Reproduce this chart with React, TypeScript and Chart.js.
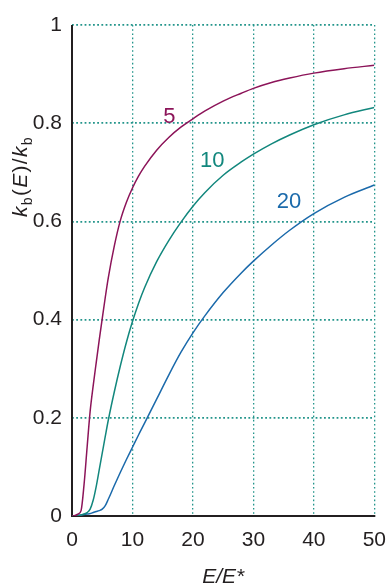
import React, { useEffect, useRef } from "react";
import { Chart, registerables } from "chart.js";

Chart.register(...registerables);

// E/E* sample positions
const xs = [0, 0.5, 1, 1.5, 2, 2.5, 3, 3.5, 4, 4.5, 5, 5.5, 6, 7, 8, 9, 10, 11, 12, 14, 16, 18, 20, 22, 25, 28, 30, 33, 36, 40, 45, 50];

// k_b(E)/k_b for s = 5, 10, 20
const s5 = [0, 0.001, 0.004, 0.011, 0.065, 0.14, 0.213, 0.265, 0.312, 0.358, 0.402, 0.445, 0.485, 0.55, 0.602, 0.639, 0.668, 0.692, 0.712, 0.745, 0.771, 0.792, 0.809, 0.825, 0.845, 0.861, 0.871, 0.883, 0.892, 0.902, 0.911, 0.918];
const s10 = [0, 0.0005, 0.001, 0.002, 0.004, 0.007, 0.014, 0.032, 0.06, 0.094, 0.128, 0.162, 0.195, 0.253, 0.306, 0.354, 0.396, 0.433, 0.465, 0.518, 0.561, 0.598, 0.631, 0.659, 0.694, 0.721, 0.737, 0.758, 0.776, 0.797, 0.817, 0.832];
const s20 = [0, 0, 0.001, 0.002, 0.003, 0.004, 0.005, 0.007, 0.009, 0.011, 0.014, 0.021, 0.034, 0.062, 0.089, 0.115, 0.14, 0.165, 0.189, 0.238, 0.287, 0.333, 0.373, 0.408, 0.455, 0.495, 0.519, 0.552, 0.582, 0.616, 0.649, 0.674];

const seriesNames = ["5", "10", "20"];
const seriesColors = ["#8c1459", "#12877d", "#1b6aab"];
// curve label anchors (data coords)
const labelX = [16.1, 23.2, 35.9];
const labelY = [0.815, 0.725, 0.641];

const xTicks = [0, 10, 20, 30, 40, 50];
const yTicks = [0, 0.2, 0.4, 0.6, 0.8, 1];
const yTickLabels = ["0", "0.2", "0.4", "0.6", "0.8", "1"];

const TEXT = "#231f20";
const GRID = "#23958b";
const FONT = '"Liberation Sans", Arial, sans-serif';

const axesLines = {
  id: "axesLines",
  beforeDatasetsDraw(chart: any) {
    const { ctx, chartArea } = chart;
    ctx.save();
    ctx.setLineDash([]);
    ctx.strokeStyle = TEXT;
    ctx.lineWidth = 2;
    ctx.beginPath();
    ctx.moveTo(chartArea.left, chartArea.top);
    ctx.lineTo(chartArea.left, chartArea.bottom);
    ctx.lineTo(chartArea.right + 1, chartArea.bottom);
    ctx.stroke();
    ctx.restore();
  },
};

const overlay = {
  id: "overlay",
  afterDraw(chart: any) {
    const ctx = chart.ctx;
    const xs_ = chart.scales.x;
    const ys_ = chart.scales.y;
    ctx.save();
    ctx.textAlign = "center";
    ctx.textBaseline = "middle";
    ctx.font = `22px ${FONT}`;
    seriesNames.forEach((n, i) => {
      ctx.fillStyle = seriesColors[i];
      ctx.fillText(n, xs_.getPixelForValue(labelX[i]), ys_.getPixelForValue(labelY[i]) + 1);
    });
    ctx.restore();

    // y axis title k_b(E)/k_b
    ctx.save();
    ctx.translate(27, 217);
    ctx.rotate(-Math.PI / 2);
    ctx.fillStyle = TEXT;
    ctx.textAlign = "left";
    ctx.textBaseline = "alphabetic";
    let pos = 0;
    const gap = 1.3;
    const seg = (t: string, font: string, dy: number) => {
      ctx.font = font;
      ctx.fillText(t, pos, dy);
      pos += ctx.measureText(t).width + gap;
    };
    const it = `italic 21px ${FONT}`;
    const rg = `21px ${FONT}`;
    const sb = `14px ${FONT}`;
    seg("k", it, 0);
    seg("b", sb, 5);
    seg("(", rg, 0);
    seg("E", it, 0);
    seg(")", rg, 0);
    seg("/", rg, 0);
    seg("k", it, 0);
    seg("b", sb, 5);
    ctx.restore();
  },
};

export default function App() {
  const ref = useRef<HTMLCanvasElement | null>(null);
  useEffect(() => {
    if (!ref.current) return;
    const mk = (ys: number[]) => xs.map((x, i) => ({ x, y: ys[i] }));
    const all = [s5, s10, s20];
    const chart = new Chart(ref.current, {
      type: "line",
      data: {
        datasets: all.map((d, i) => ({
          label: seriesNames[i],
          data: mk(d),
          borderColor: seriesColors[i],
          borderWidth: 1.5,
          pointRadius: 0,
          fill: false,
          cubicInterpolationMode: "monotone" as const,
        })),
      },
      options: {
        responsive: false,
        animation: false,
        devicePixelRatio: 1,
        layout: { padding: { left: 0, right: 0, top: 25, bottom: 0 } },
        plugins: { legend: { display: false }, tooltip: { enabled: false } },
        scales: {
          x: {
            type: "linear",
            min: 0,
            max: 50,
            afterFit: (s: any) => {
              s.height = 70;
            },
            afterBuildTicks: (s: any) => {
              s.ticks = xTicks.map((v) => ({ value: v }));
            },
            ticks: {
              padding: 0,
              color: TEXT,
              font: { family: FONT, size: 21 },
              maxRotation: 0,
              callback: (v: any) => String(v),
            },
            grid: {
              drawTicks: true,
              tickLength: 12,
              tickColor: "rgba(0,0,0,0)",
              color: GRID,
              lineWidth: 1.3,
            },
            border: { display: false, dash: [1.6, 2.6] },
            title: {
              display: true,
              text: "E/E*",
              color: TEXT,
              font: { family: FONT, size: 21, style: "italic", lineHeight: 1 },
              padding: { top: 0, bottom: -2 },
            },
          },
          y: {
            type: "linear",
            min: 0,
            max: 1,
            afterFit: (s: any) => {
              s.width = 72;
            },
            afterBuildTicks: (s: any) => {
              s.ticks = yTicks.map((v) => ({ value: v }));
            },
            ticks: {
              padding: 10,
              color: TEXT,
              font: { family: FONT, size: 21 },
              callback: (v: any) => {
                const i = yTicks.findIndex((t) => Math.abs(t - v) < 1e-6);
                return i >= 0 ? yTickLabels[i] : "";
              },
            },
            grid: {
              drawTicks: false,
              color: GRID,
              lineWidth: 1.7,
            },
            border: { display: false, dash: [1.8, 2.4] },
          },
        },
      },
      plugins: [axesLines, overlay],
    });
    return () => chart.destroy();
  }, []);
  return (
    <div style={{ position: "fixed", left: 0, top: 0, width: 386, height: 586, background: "#fff" }}>
      <canvas ref={ref} width={386} height={586} />
    </div>
  );
}
